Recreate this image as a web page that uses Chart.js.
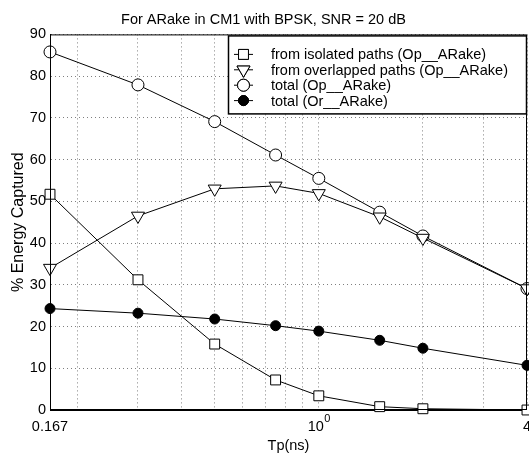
<!DOCTYPE html>
<html>
<head>
<meta charset="utf-8">
<script src="https://cdn.jsdelivr.net/npm/chart.js@4/dist/chart.umd.min.js"></script>
<style>
  html, body { margin: 0; padding: 0; background: #fff; }
</style>
</head>
<body>
<canvas id="graph1" width="529" height="455"></canvas>
<script>
// Tp (ns) values on the log x axis
const tp = [0.167, 0.3, 0.5, 0.75, 1, 1.5, 2, 4];

// % energy captured
const isolated   = [51.7, 31.2, 15.8, 7.2, 3.4, 0.8, 0.3, 0];
const overlapped = [34.0, 46.5, 53.0, 53.7, 51.9, 46.3, 41.2, 29.1];
const totalOp    = [85.8, 77.9, 69.1, 61.1, 55.5, 47.4, 41.7, 29.1];
const totalOr    = [24.3, 23.2, 21.8, 20.2, 18.9, 16.7, 14.8, 10.7];

const labels = [
    "from isolated paths (Op__ARake)",
    "from overlapped paths (Op__ARake)",
    "total (Op__ARake)",
    "total (Or__ARake)"
];

// grid positions of the log axis, and the labelled ones (base text + superscript)
const xTicks = [0.167, 0.2, 0.3, 0.4, 0.5, 0.6, 0.7, 0.8, 0.9, 1, 2, 3, 4];
const xTickLabels = [
    { value: 0.167, text: "0.167", sup: "" },
    { value: 1,     text: "10",    sup: "0" },
    { value: 4,     text: "4",     sup: "" }
];

const FONT = "'Liberation Sans', Arial, Helvetica, sans-serif";

window.addEventListener("load", function () {
    draw_chart();
});

function pts(ys) {
    return ys.map((y, i) => ({ x: tp[i], y: y }));
}

function draw_chart() {

    const styles = [
        { pointStyle: "rect",     pointRadius: 7,   pointRotation: 0,   fill: "#fff" },
        { pointStyle: "triangle", pointRadius: 7.5, pointRotation: 180, fill: "#fff" },
        { pointStyle: "circle",   pointRadius: 6,   pointRotation: 0,   fill: "#fff" },
        { pointStyle: "circle",   pointRadius: 5,   pointRotation: 0,   fill: "#000" }
    ];
    const series = [isolated, overlapped, totalOp, totalOr];

    const datasets = series.map((ys, i) => ({
        label: labels[i],
        data: pts(ys),
        borderColor: "#000",
        borderWidth: 1,
        backgroundColor: styles[i].fill,
        pointStyle: styles[i].pointStyle,
        pointRadius: styles[i].pointRadius,
        pointRotation: styles[i].pointRotation,
        pointBorderColor: "#000",
        pointBorderWidth: 1,
        pointBackgroundColor: styles[i].fill,
        tension: 0,
        clip: false
    }));

    // box around plot, x tick labels (with superscript) and a matlab-like legend
    const boxPlugin = {
        id: "box",
        afterDraw(chart) {
            const ctx = chart.ctx;
            const a = chart.chartArea;
            ctx.save();
            ctx.strokeStyle = "#000";
            ctx.lineWidth = 1;
            ctx.strokeRect(a.left + 0.5, a.top + 0.5, a.right - a.left - 1, a.bottom - a.top - 1);

            // x tick labels
            const xs = chart.scales.x;
            ctx.fillStyle = "#000";
            ctx.textBaseline = "alphabetic";
            for (const t of xTickLabels) {
                const px = xs.getPixelForValue(t.value);
                ctx.font = "14.5px " + FONT;
                const w1 = ctx.measureText(t.text).width;
                ctx.font = "11px " + FONT;
                const w2 = t.sup ? ctx.measureText(t.sup).width : 0;
                const x0 = px - (w1 + w2) / 2;
                ctx.textAlign = "left";
                ctx.font = "14.5px " + FONT;
                ctx.fillText(t.text, x0, a.bottom + 21);
                if (t.sup) {
                    ctx.font = "11px " + FONT;
                    ctx.fillText(t.sup, x0 + w1 + 0.5, a.bottom + 12);
                }
            }

            // legend
            const w = 298, h = 78;
            const lx = a.right - 1 - w, ly = a.top + 1;
            ctx.fillStyle = "#fff";
            ctx.fillRect(lx, ly, w, h);
            ctx.lineWidth = 1.5;
            ctx.strokeRect(lx + 0.5, ly + 0.5, w, h);

            ctx.font = "14.5px " + FONT;
            ctx.textBaseline = "middle";
            ctx.textAlign = "left";
            for (let i = 0; i < datasets.length; i++) {
                const y = ly + 19 + i * 15.4;
                ctx.strokeStyle = "#000";
                ctx.lineWidth = 1;
                ctx.beginPath();
                ctx.moveTo(lx + 6, y);
                ctx.lineTo(lx + 25, y);
                ctx.stroke();
                const d = datasets[i];
                Chart.helpers.drawPoint(ctx, {
                    pointStyle: d.pointStyle,
                    radius: d.pointRadius,
                    rotation: d.pointRotation,
                    borderWidth: 1
                }, lx + 15.5, y);
                ctx.fillStyle = d.pointBackgroundColor;
                ctx.fill();
                ctx.stroke();
                ctx.fillStyle = "#000";
                ctx.fillText(d.label, lx + 43, y + 1);
            }
            ctx.restore();
        }
    };

    const ctx = document.getElementById("graph1").getContext("2d");
    const myChart = new Chart(ctx, {
        type: "line",
        data: { datasets: datasets },
        plugins: [boxPlugin],
        options: {
            responsive: false,
            animation: false,
            // no extra room for the point markers, the plot runs to the edge
            layout: { autoPadding: false, padding: { right: 2, left: 0 } },
            plugins: {
                legend: { display: false },
                tooltip: { enabled: false },
                title: {
                    display: true,
                    text: "For ARake in CM1 with BPSK, SNR = 20 dB",
                    color: "#000",
                    font: { family: FONT, size: 14.5, weight: "normal" },
                    padding: { top: 11, bottom: 6 }
                }
            },
            scales: {
                x: {
                    type: "logarithmic",
                    min: 0.167,
                    max: 4,
                    afterBuildTicks(scale) {
                        scale.ticks = xTicks.map(v => ({ value: v }));
                    },
                    afterFit(scale) {
                        scale.height = 45;
                    },
                    ticks: { display: false, autoSkip: false },
                    grid: {
                        color: "rgba(0,0,0,0.5)",
                        lineWidth: 1,
                        drawTicks: false
                    },
                    border: { display: true, color: "#000", dash: [1, 3] },
                    title: {
                        display: true,
                        text: "Tp(ns)",
                        color: "#000",
                        font: { family: FONT, size: 14.5 },
                        padding: { top: 0, bottom: 0 }
                    }
                },
                y: {
                    min: 0,
                    max: 90,
                    afterFit(scale) { scale.width = 50; },
                    ticks: {
                        stepSize: 10,
                        color: "#000",
                        padding: 4,
                        font: { family: FONT, size: 14.5 }
                    },
                    grid: {
                        color: "rgba(0,0,0,0.5)",
                        lineWidth: 1,
                        drawTicks: false
                    },
                    border: { display: true, color: "#000", dash: [1, 3] },
                    title: {
                        display: true,
                        text: "% Energy Captured",
                        color: "#000",
                        font: { family: FONT, size: 16 },
                        padding: { top: 9, bottom: 0 }
                    }
                }
            }
        }
    });
}
</script>
</body>
</html>
